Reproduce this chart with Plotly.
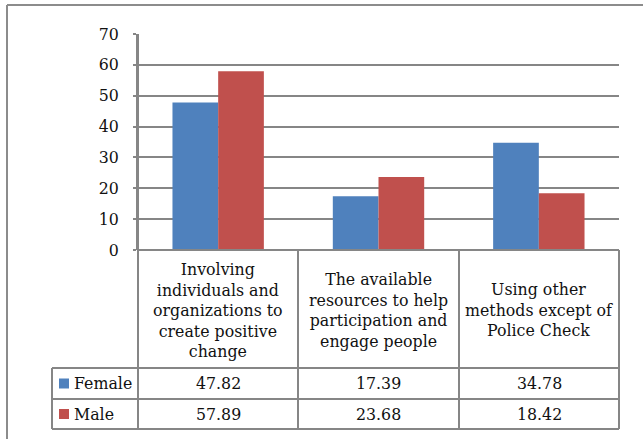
import plotly.graph_objects as go

categories = [
    "Involving<br>individuals and<br>organizations to<br>create positive<br>change",
    "The available<br>resources to help<br>participation and<br>engage people",
    "Using other<br>methods except of<br>Police Check",
]
series_names = ["Female", "Male"]
female = [47.82, 17.39, 34.78]
male = [57.89, 23.68, 18.42]
value_labels = [["47.82", "17.39", "34.78"], ["57.89", "23.68", "18.42"]]
y_ticks = [0, 10, 20, 30, 40, 50, 60, 70]

W, H = 643, 439
L, R, T, B = 138, 619, 34, 250
FONT = "DejaVu Serif"
FS = 15.8
GRAY = "#868686"
colors = ["#4F81BD", "#C0504D"]


def px_x(x):
    return (x - L) / (R - L)


def px_y(y):
    return (B - y) / (B - T)


xs = list(range(len(categories)))
fig = go.Figure()
for name, vals, c in zip(series_names, [female, male], colors):
    fig.add_trace(go.Bar(x=xs, y=vals, name=name, marker=dict(color=c, line=dict(width=0)),
                         showlegend=False))

shapes = []


def line(x0, y0, x1, y1, w=2, color=GRAY):
    shapes.append(dict(type="line", xref="paper", yref="paper",
                       x0=px_x(x0), y0=px_y(y0), x1=px_x(x1), y1=px_y(y1),
                       line=dict(color=color, width=w), layer="above"))


# outer chart border
line(7, 5, 643, 5, 2, "#8c8c8c")
line(7, 5, 7, 439, 2, "#8c8c8c")

# data table grid
col_edges = [138, 298, 459, 619]
row_cat_top, row_f_top, row_m_top, row_bot = 250, 368, 399, 429
legend_left = 52
line(138, row_cat_top, 619, row_cat_top)
for yy in [row_f_top, row_m_top, row_bot]:
    line(legend_left, yy, 619, yy)
line(138, T, 138, row_bot)
for xx in col_edges[1:]:
    line(xx, row_cat_top, xx, row_bot)
line(legend_left, row_f_top, legend_left, row_bot)

annotations = []
for i, cat in enumerate(categories):
    cx = (col_edges[i] + col_edges[i + 1]) / 2
    annotations.append(dict(xref="paper", yref="paper", x=px_x(cx), y=px_y((row_cat_top + row_f_top) / 2 + 1),
                            text=cat, showarrow=False, xanchor="center", yanchor="middle",
                            font=dict(family=FONT, size=FS, color="#111")))
row_tops = [row_f_top, row_m_top]
row_bots = [row_m_top, row_bot]
for s, name in enumerate(series_names):
    cy = (row_tops[s] + row_bots[s]) / 2
    shapes.append(dict(type="rect", xref="paper", yref="paper",
                       x0=px_x(59), x1=px_x(69), y0=px_y(cy - 5), y1=px_y(cy + 5),
                       fillcolor=colors[s], line=dict(width=0)))
    annotations.append(dict(xref="paper", yref="paper", x=px_x(72), y=px_y(cy),
                            text=name, showarrow=False, xanchor="left", yanchor="middle",
                            font=dict(family=FONT, size=FS, color="#111")))
    for i, v in enumerate(value_labels[s]):
        cx = (col_edges[i] + col_edges[i + 1]) / 2
        annotations.append(dict(xref="paper", yref="paper", x=px_x(cx), y=px_y(cy),
                                text=v, showarrow=False, xanchor="center", yanchor="middle",
                                font=dict(family=FONT, size=FS, color="#111")))

fig.update_layout(
    width=W, height=H,
    margin=dict(l=L, r=W - R, t=T, b=H - B, pad=0),
    paper_bgcolor="white", plot_bgcolor="white",
    barmode="group", bargap=0.43, bargroupgap=0,
    shapes=shapes, annotations=annotations,
    font=dict(family=FONT, size=FS, color="#111"),
    xaxis=dict(range=[-0.5, 2.5], showticklabels=False, showgrid=False, zeroline=False,
               showline=False, ticks=""),
    yaxis=dict(range=[0, 70], tickvals=y_ticks, showgrid=True, gridcolor=GRAY, gridwidth=1.5,
               zeroline=False, showline=True, linecolor=GRAY, linewidth=2,
               ticks="outside", ticklen=3, tickcolor=GRAY, tickwidth=1.5,
               ticklabelstandoff=11,
               tickfont=dict(family=FONT, size=FS, color="#111")),
)

fig.write_html("out.html")
